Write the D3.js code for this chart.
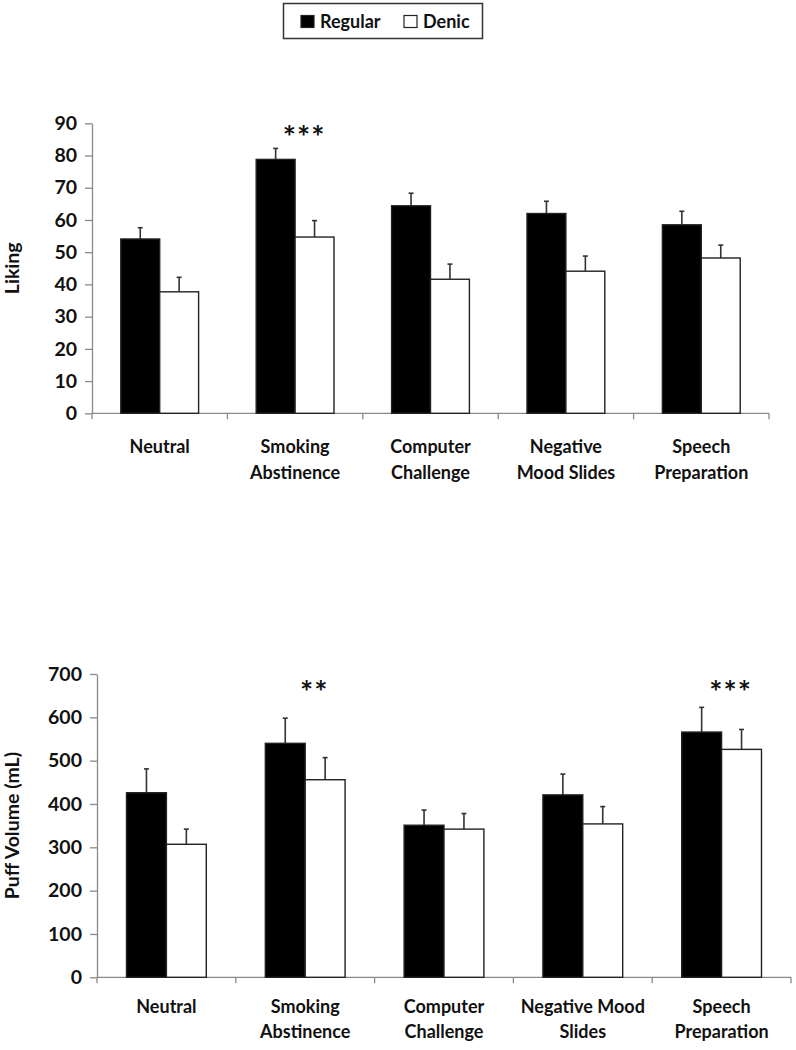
<!DOCTYPE html>
<html><head><meta charset="utf-8">
<script src="https://cdn.jsdelivr.net/npm/d3@7"></script>
<style>body{margin:0;background:#fff}svg{display:block}text{font-family:Lato,"Open Sans",sans-serif;font-weight:bold;fill:#111}</style>
</head><body><svg id="c" width="796" height="1050"></svg>
<script>
const categories = [["Neutral"],["Smoking","Abstinence"],["Computer","Challenge"],["Negative","Mood Slides"],["Speech","Preparation"]];
const categories2 = [["Neutral"],["Smoking","Abstinence"],["Computer","Challenge"],["Negative Mood","Slides"],["Speech","Preparation"]];
const series = ["Regular","Denic"];
const likingRegular = [54.1, 78.8, 64.4, 62.0, 58.5];
const likingRegularErr = [3.5, 3.4, 3.9, 3.8, 4.2];
const likingDenic = [37.7, 54.7, 41.6, 44.1, 48.2];
const likingDenicErr = [4.5, 5.1, 4.7, 4.7, 4.0];
const puffRegular = [426, 540, 351, 421, 566];
const puffRegularErr = [55, 58, 35, 48, 57];
const puffDenic = [307, 456, 342, 354, 526];
const puffDenicErr = [35, 51, 36, 40, 46];
const likingTicks = [0,10,20,30,40,50,60,70,80,90];
const puffTicks = [0,100,200,300,400,500,600,700];
const likingStars = [{cat:1, y:87, text:"***"}];
const puffStars = [{cat:1, y:668, text:"**"}, {cat:4, y:668, text:"***"}];

const svg = d3.select("#c");
const colors = {Regular:"#000", Denic:"#fff"};

function panel(o){
  const g = svg.append("g");
  const idx = d3.range(o.labels.length);
  const x0 = d3.scaleBand().domain(idx).range([o.left,o.right]).padding(0);
  const x1 = d3.scaleBand().domain(series).range([0,x0.bandwidth()]).paddingInner(0).paddingOuter(0.74);
  const y = d3.scaleLinear().domain([0,o.max]).range([o.bottom,o.top]);
  const ya = g.append("g").attr("transform",`translate(${o.left},0)`)
    .call(d3.axisLeft(y).tickValues(o.ticks).tickSize(7).tickPadding(8).tickSizeOuter(0));
  ya.select(".domain").attr("stroke","#8a8a8a").attr("stroke-width",1.3);
  ya.selectAll(".tick line").attr("stroke","#8a8a8a").attr("stroke-width",1.3);
  ya.selectAll(".tick text").attr("font-size",19.5).attr("font-family","Lato").attr("font-weight","bold").attr("fill","#111");
  g.append("line").attr("x1",o.left).attr("x2",o.right).attr("y1",y(0)).attr("y2",y(0)).attr("stroke","#8a8a8a").attr("stroke-width",1.3);
  const bounds = idx.map(i=>x0(i)).concat([o.right]);
  g.selectAll(".xt").data(bounds).join("line").attr("x1",d=>d).attr("x2",d=>d).attr("y1",y(0)).attr("y2",y(0)+6).attr("stroke","#8a8a8a").attr("stroke-width",1.3);
  const data = [];
  idx.forEach(i=>{
    data.push({i, s:"Regular", v:o.reg[i], e:o.regE[i]});
    data.push({i, s:"Denic", v:o.den[i], e:o.denE[i]});
  });
  const eb = g.selectAll(".eb").data(data).join("g");
  eb.append("line").attr("x1",d=>x0(d.i)+x1(d.s)+x1.bandwidth()/2).attr("x2",d=>x0(d.i)+x1(d.s)+x1.bandwidth()/2)
    .attr("y1",d=>y(d.v)).attr("y2",d=>y(d.v+d.e)).attr("stroke","#333").attr("stroke-width",1.6);
  eb.append("line").attr("x1",d=>x0(d.i)+x1(d.s)+x1.bandwidth()/2-2.5).attr("x2",d=>x0(d.i)+x1(d.s)+x1.bandwidth()/2+2.5)
    .attr("y1",d=>y(d.v+d.e)).attr("y2",d=>y(d.v+d.e)).attr("stroke","#333").attr("stroke-width",1.6);
  g.selectAll(".bar").data(data).join("rect")
    .attr("x",d=>x0(d.i)+x1(d.s)).attr("width",x1.bandwidth())
    .attr("y",d=>y(d.v)).attr("height",d=>y(0)-y(d.v))
    .attr("fill",d=>colors[d.s]).attr("stroke","#222").attr("stroke-width",1.4);
  const lab = g.selectAll(".cl").data(o.labels).join("text")
    .attr("text-anchor","middle").attr("font-size",18)
    .attr("transform",(d,i)=>`translate(${x0(i)+x0.bandwidth()/2},${o.labelY})`);
  lab.selectAll("tspan").data(d=>d).join("tspan").attr("x",0).attr("dy",(d,j)=>j===0?0:o.lineH).text(d=>d);
  g.append("text").attr("text-anchor","middle").attr("font-size",19.5)
    .attr("transform",`translate(${o.titleX},${(o.top+o.bottom)/2}) rotate(-90)`).text(o.title);
  g.selectAll(".st").data(o.stars).join("text").attr("text-anchor","middle")
    .attr("font-family","DejaVu Sans").attr("font-weight","bold").attr("font-size",31).attr("letter-spacing",1)
    .attr("x",d=>x0(d.cat)+x0.bandwidth()/2+9).attr("y",d=>y(d.y)+15).text(d=>d.text);
}

panel({labels:categories, left:92, right:769, top:123.3, bottom:413.3, max:90, ticks:likingTicks,
  reg:likingRegular, regE:likingRegularErr, den:likingDenic, denE:likingDenicErr,
  labelY:453, lineH:26, title:"Liking", titleX:19, stars:likingStars});
panel({labels:categories2, left:97, right:791, top:674, bottom:977.3, max:700, ticks:puffTicks,
  reg:puffRegular, regE:puffRegularErr, den:puffDenic, denE:puffDenicErr,
  labelY:1013, lineH:25, title:"Puff Volume (mL)", titleX:19, stars:puffStars});

const lg = svg.append("g");
lg.append("rect").attr("x",283.5).attr("y",3.5).attr("width",199).attr("height",35).attr("fill","#fff").attr("stroke","#333").attr("stroke-width",1.5);
const items = [{s:"Regular", x:301},{s:"Denic", x:404}];
lg.selectAll(".li").data(items).join("rect").attr("x",d=>d.x).attr("y",15.5).attr("width",13).attr("height",12)
  .attr("fill",d=>colors[d.s]).attr("stroke","#222").attr("stroke-width",1.2);
lg.selectAll(".lt").data(items).join("text").attr("x",d=>d.x+19).attr("y",28).attr("font-size",18).text(d=>d.s);
</script></body></html>
